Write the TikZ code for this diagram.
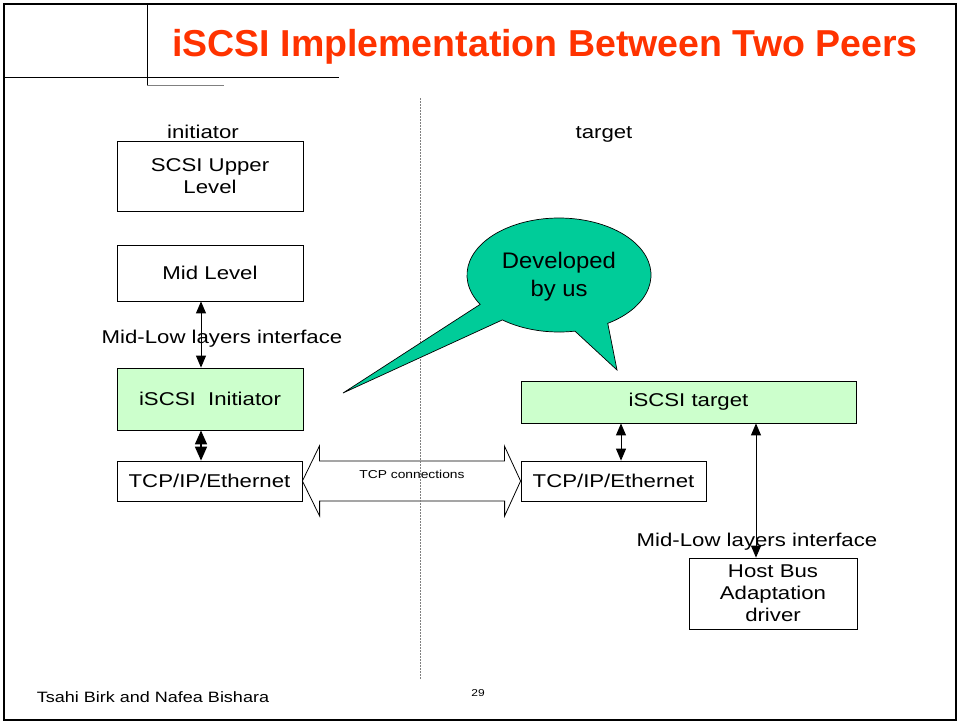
\documentclass[tikz,border=0pt]{standalone}
\usepackage{fontspec}
% body text is set in a slightly widened Arial-metric face
\setmainfont[FakeStretch=1.2]{Liberation Sans}
\newfontfamily\titlefont{Liberation Sans}
\newfontfamily\bubblefont[FakeStretch=1.06]{Liberation Sans}
\usetikzlibrary{arrows.meta,calc}

\definecolor{titlered}{RGB}{255,51,0}
\definecolor{layergreen}{RGB}{204,255,204}
\definecolor{calloutgreen}{RGB}{0,204,153}

\tikzset{
  layerbox/.style={draw, line width=0.8pt, inner sep=0pt, align=center,
    font=\fontsize{18.5}{22}\selectfont},
  active/.style={layerbox, fill=layergreen},
  lbl/.style={inner sep=0pt, font=\fontsize{18.5}{22}\selectfont},
  dbl/.style={line width=0.9pt, {Triangle[length=12pt,width=10pt]}-{Triangle[length=12pt,width=10pt]}},
  dblthick/.style={line width=1.6pt, {Triangle[length=14pt,width=12pt]}-{Triangle[length=14pt,width=12pt]}},
}

\begin{document}
\begin{tikzpicture}[x=1pt,y=-1pt]
  \useasboundingbox (0,0) rectangle (960,724);

  % slide frame and title rules
  \draw[line width=2.6pt] (4,4) rectangle (956,720);
  \draw[line width=0.8pt] (3,77) -- (339,77);
  \draw[line width=0.8pt] (147,3) -- (147,85);
  \draw[line width=1pt, gray] (147,85) -- (224,85);

  \node[text=titlered, font=\titlefont\fontsize{37.5}{40}\selectfont\bfseries, inner sep=0pt]
    (title) at (545,47) {iSCSI Implementation Between Two Peers};

  % initiator stack
  \node[lbl] (initlbl) at (203,132) {initiator};
  \node[layerbox, minimum width=186pt, minimum height=70pt] (upper) at (210,176) {SCSI Upper\\Level};
  \node[layerbox, minimum width=186pt, minimum height=56pt] (mid) at (210,273) {Mid Level};
  \node[active, minimum width=186pt, minimum height=62pt] (init) at (210,399) {iSCSI\ \ Initiator};
  \node[layerbox, minimum width=185pt, minimum height=40pt] (tcpl) at (209.5,481) {TCP/IP/Ethernet};
  \node[lbl] (ifl) at (222,339) {Mid-Low layers interface};

  % target stack
  \node[lbl] (tgtlbl) at (604,134) {target};
  \node[active, minimum width=335pt, minimum height=42pt] (tgt) at (688.5,402) {iSCSI target};
  \node[layerbox, minimum width=185pt, minimum height=40pt] (tcpr) at (613.5,481) {TCP/IP/Ethernet};
  \node[layerbox, minimum width=168pt, minimum height=71pt] (hba) at (773,593.5) {Host Bus\\Adaptation\\driver};
  \node[lbl] (ifr) at (757,542) {Mid-Low layers interface};

  % vertical connectors
  \coordinate (ax) at (201,0);
  \coordinate (bx) at (621,0);
  \coordinate (cx) at (756,0);
  \draw[dbl] (mid.south -| ax) -- (init.north -| ax);
  \draw[dblthick] (init.south -| ax) -- (tcpl.north -| ax);
  \draw[dbl] (tgt.south -| bx) -- (tcpr.north -| bx);
  \draw[dbl] (tgt.south -| cx) -- (hba.north -| cx);

  % hollow double arrow between the two TCP/IP layers
  \draw[line width=0.8pt]
    (tcpl.east) -- ++(17,-35) -- ++(0,15) -- ++(185,0) -- ++(0,-15)
    -- (tcpr.west) -- ++(-16,35) -- ++(0,-15) -- ++(-185,0) -- ++(0,15) -- cycle;
  \node[inner sep=0pt, font=\fontsize{11.5}{13}\selectfont] (tcpconn) at (412,474) {TCP connections};

  % dividing line
  \coordinate (divtop) at (420,98);
  \coordinate (divbot) at (420,680);
  \draw[gray, line width=1pt, dash pattern=on 1.5pt off 1.5pt] (divtop) -- (divbot);

  % speech bubble
  \coordinate (bc) at (559,275);
  \coordinate (tip1) at (343,393);
  \coordinate (tip2) at (617,370);
  \draw[fill=calloutgreen, line width=0.7pt]
    ($(bc)+(149:92 and 57)$) arc[start angle=149, end angle=418, x radius=92, y radius=57]
    -- (tip2) -- ($(bc)+(80:92 and 57)$)
    arc[start angle=80, end angle=128, x radius=92, y radius=57]
    -- (tip1) -- cycle;
  \node[align=center, inner sep=0pt, font=\bubblefont\fontsize{22.5}{28}\selectfont] (dev) at (559,277) {Developed\\by us};

  % footer
  \node[inner sep=0pt, font=\fontsize{15}{17}\selectfont] (author) at (153,697) {Tsahi Birk and Nafea Bishara};
  \node[inner sep=0pt, font=\fontsize{10}{11}\selectfont] (pageno) at (478,693) {29};
\end{tikzpicture}
\end{document}
